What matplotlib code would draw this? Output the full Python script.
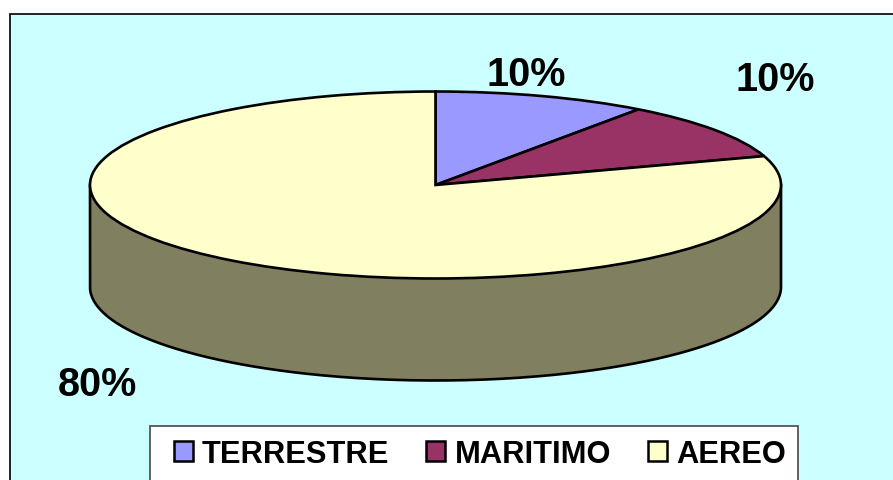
import numpy as np
import matplotlib
matplotlib.use("Agg")
import matplotlib.pyplot as plt
from matplotlib.patches import Rectangle

categories = ["TERRESTRE", "MARITIMO", "AEREO"]
values = [10, 10, 80]
labels = ["10%", "10%", "80%"]
colors = ["#9999FF", "#993366", "#FFFFCC"]
wall_color = "#808060"

W, H = 893, 481
plt.rcParams['font.family'] = ['Liberation Sans', 'DejaVu Sans']
fig = plt.figure(figsize=(W / 100, H / 100), dpi=100, facecolor="white")

# panel
bg = fig.add_axes([0, 0, 1, 1], zorder=0)
bg.set_xlim(0, W); bg.set_ylim(H, 0); bg.axis("off")
bg.add_patch(Rectangle((9.5, 14.5), W, H, fc="#CCFFFF", ec="black", lw=1.2))

# squashed pie: ellipse centre and radii in pixels
cx, cy, rx, ry = 435.5, 186, 345.5, 93.5
depth = 102 / ry
ax = fig.add_axes([(cx - rx) / W, 1 - (cy + ry) / H, 2 * rx / W, 2 * ry / H], zorder=1)
ax.pie(values, colors=colors, startangle=90, counterclock=False, radius=1,
       wedgeprops=dict(edgecolor="black", linewidth=1.9, zorder=3, clip_on=False))
ax.set_aspect("auto")
ax.set_xlim(-1, 1); ax.set_ylim(-1, 1)
ax.patch.set_alpha(0)

# side wall under the visible front rim, outlined as one continuous path
t = np.linspace(np.pi, 2 * np.pi, 300)
x, y = np.cos(t), np.sin(t)
ax.fill_between(x, y, y - depth, fc=wall_color, ec="none", zorder=1, clip_on=False)
ox = np.concatenate([[-1], x, [1]])
oy = np.concatenate([[0], y - depth, [0]])
ax.plot(ox, oy, color="black", lw=1.9, zorder=2, clip_on=False, solid_joinstyle="round")

# value labels
for s, (px, py) in zip(labels, [(526, 75), (775, 80), (97, 385)]):
    fig.text(px / W, 1 - py / H, s, fontsize=28.5, fontweight="bold",
             ha="center", va="center", color="black", zorder=5)

# legend box, running off the bottom of the picture
bg.add_patch(Rectangle((150, 427), 648, 80, fc="white", ec="#555555", lw=1.3, zorder=4))

# legend
handles = [Rectangle((0, 0), 1, 1, fc=c, ec="black", lw=1.8) for c in colors]
leg = fig.legend(handles, categories, ncol=3, loc="upper left",
                 bbox_to_anchor=(173.5 / W, 1 - 440 / H), borderaxespad=0,
                 prop=dict(size=22.2, weight="bold"), frameon=False,
                 handlelength=0.62, handleheight=0.62, handletextpad=0.3,
                 columnspacing=1.2, borderpad=0)
leg.set_zorder(6)

fig.savefig("out.png", dpi=100, facecolor="white")
